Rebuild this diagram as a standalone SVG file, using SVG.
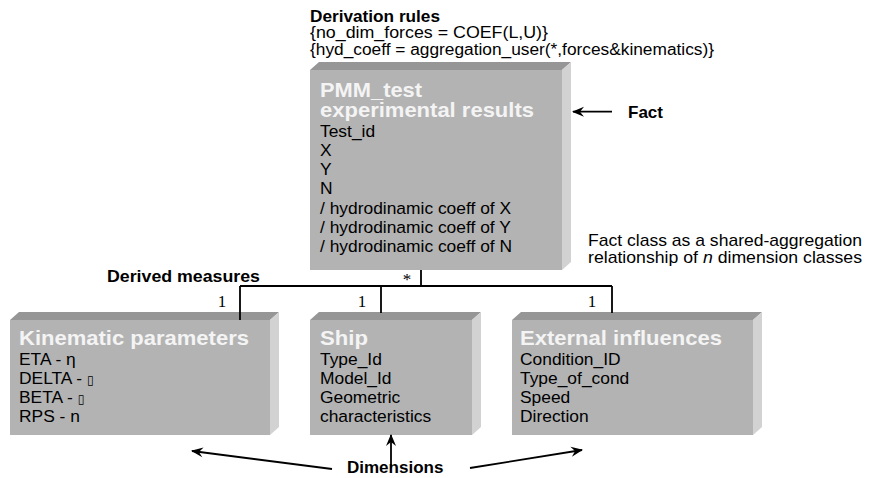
<svg xmlns="http://www.w3.org/2000/svg" width="869" height="478" viewBox="0 0 869 478">
<defs>
<style>
.front{fill:#b3b3b3}
.top{fill:#969696}
.side{fill:#d2d2d2}
.title{font-family:"Liberation Sans",Arial,sans-serif;font-weight:bold;font-size:20.5px;fill:#f4f4f4}
.item{font-family:"Liberation Sans",Arial,sans-serif;font-size:17.4px;fill:#000}
.note{font-family:"Liberation Sans",Arial,sans-serif;font-size:17px;fill:#000}
.rule{font-family:"Liberation Sans",Arial,sans-serif;font-size:16px;fill:#000}
.bold{font-weight:bold}
.mult{font-family:"Liberation Serif","Times New Roman",serif;font-size:17px;fill:#000;text-anchor:middle}
.tofu{font-family:"DejaVu Sans",sans-serif;font-size:12px}
.line{fill:none;stroke:#000;stroke-width:1.8}
.arrow{fill:none;stroke:#000;stroke-width:1.8;marker-end:url(#head)}
</style>
<marker id="head" viewBox="-1 -6 14 12" markerWidth="14" markerHeight="12" refX="11" refY="0" orient="auto" markerUnits="userSpaceOnUse">
<path d="M12,0 L0,-5 L4,0 L0,5 Z" fill="#000"/>
</marker>
</defs>
<rect width="869" height="478" fill="#fff"/>

<g id="derivation-rules">
<text class="rule bold" x="310" y="21.5" textLength="130" lengthAdjust="spacingAndGlyphs">Derivation rules</text>
<text class="rule" x="310" y="38" textLength="238" lengthAdjust="spacingAndGlyphs">{no_dim_forces = COEF(L,U)}</text>
<text class="rule" x="310" y="54.5" textLength="404" lengthAdjust="spacingAndGlyphs">{hyd_coeff = aggregation_user(*,forces&amp;kinematics)}</text>
</g>

<g id="fact">
<polygon class="top" points="310,70 319,62 571,62 562,70"/>
<polygon class="side" points="562,70 571,62 571,262 562,270"/>
<rect class="front" x="310" y="70" width="252" height="200"/>
<text class="title" x="320" y="97" textLength="102" lengthAdjust="spacingAndGlyphs">PMM_test</text>
<text class="title" x="320" y="117" textLength="214" lengthAdjust="spacingAndGlyphs">experimental results</text>
<text class="item" x="320" y="136.5">Test_id</text>
<text class="item" x="320" y="155.8">X</text>
<text class="item" x="320" y="175.1">Y</text>
<text class="item" x="320" y="194.4">N</text>
<text class="item" x="320" y="213.7">/ hydrodinamic coeff of X</text>
<text class="item" x="320" y="233">/ hydrodinamic coeff of Y</text>
<text class="item" x="320" y="252.3">/ hydrodinamic coeff of N</text>
</g>

<g id="kinematic-parameters">
<polygon class="top" points="10,320 19,312 279,312 270,320"/>
<polygon class="side" points="270,320 279,312 279,427 270,435"/>
<rect class="front" x="10" y="320" width="260" height="115"/>
<text class="title" x="19" y="344.5" textLength="230" lengthAdjust="spacingAndGlyphs">Kinematic parameters</text>
<text class="item" x="19" y="364.5">ETA - η</text>
<text class="item" x="19" y="383.8">DELTA - <tspan class="tofu">▯</tspan></text>
<text class="item" x="19" y="403.1">BETA - <tspan class="tofu">▯</tspan></text>
<text class="item" x="19" y="422.4">RPS - n</text>
</g>

<g id="ship">
<polygon class="top" points="310,320 319,312 481,312 472,320"/>
<polygon class="side" points="472,320 481,312 481,427 472,435"/>
<rect class="front" x="310" y="320" width="162" height="115"/>
<text class="title" x="320" y="344.5" textLength="48" lengthAdjust="spacingAndGlyphs">Ship</text>
<text class="item" x="320" y="364.5">Type_Id</text>
<text class="item" x="320" y="383.8">Model_Id</text>
<text class="item" x="320" y="403.1">Geometric</text>
<text class="item" x="320" y="422.4">characteristics</text>
</g>

<g id="external-influences">
<polygon class="top" points="512,320 521,312 762,312 753,320"/>
<polygon class="side" points="753,320 762,312 762,427 753,435"/>
<rect class="front" x="512" y="320" width="241" height="115"/>
<text class="title" x="520" y="344.5" textLength="202" lengthAdjust="spacingAndGlyphs">External influences</text>
<text class="item" x="520" y="364.5">Condition_ID</text>
<text class="item" x="520" y="383.8">Type_of_cond</text>
<text class="item" x="520" y="403.1">Speed</text>
<text class="item" x="520" y="422.4">Direction</text>
</g>

<g id="connectors">
<path class="line" d="M421,270 V286 M240,286 H612 M240,286 V320 M381,286 V313 M612,286 V313"/>
<text class="mult" x="407" y="285">*</text>
<text class="mult" x="222" y="307">1</text>
<text class="mult" x="362" y="307">1</text>
<text class="mult" x="592" y="307">1</text>
<path class="arrow" d="M612,111.7 H573"/>
<path class="arrow" d="M332,469 L192,451"/>
<path class="arrow" d="M391,468 V435"/>
<path class="arrow" d="M470,468 L582,450"/>
</g>

<g id="labels">
<text class="note bold" x="628" y="118">Fact</text>
<text class="note" x="588" y="246" textLength="274" lengthAdjust="spacingAndGlyphs">Fact class as a shared-aggregation</text>
<text class="note" x="588" y="263" textLength="274" lengthAdjust="spacingAndGlyphs">relationship of <tspan font-style="italic">n</tspan> dimension classes</text>
<text class="note bold" x="107" y="281.5" textLength="153" lengthAdjust="spacingAndGlyphs">Derived measures</text>
<text class="note bold" x="347" y="473" font-size="20">Dimensions</text>
</g>
</svg>
